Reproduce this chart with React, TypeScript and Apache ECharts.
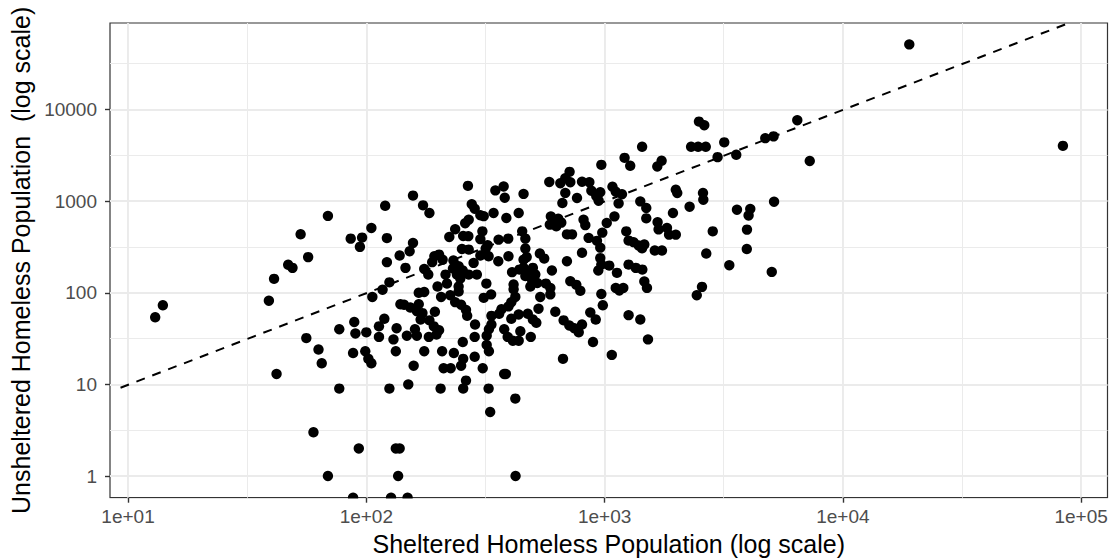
import React, { useEffect, useRef } from "react";
import * as echarts from "echarts";

// Sheltered (x) and unsheltered (y) homeless population per area.
const sheltered = [
  13, 14, 39, 41, 42, 47, 49, 53, 57, 56, 60, 63, 65, 69, 69, 77, 77,
  86, 96, 94, 105, 120, 122, 122, 138, 106, 117, 125, 139, 89, 90, 100, 113, 113, 119, 130, 134,
  88, 99, 102, 105, 133, 125, 93, 133, 138, 136, 88, 127, 149,
  146, 157, 173, 184, 157, 152, 175, 182, 193, 202, 209, 189, 232, 236, 223, 255, 268, 252,
  267, 277, 285, 301, 311, 269, 260, 244, 231, 254, 215, 240, 218, 244, 248, 206, 225, 236,
  244, 199, 250, 262, 265, 166, 175, 144, 153, 166, 163, 172, 169, 194, 184, 192, 202, 197,
  160, 148, 163, 183, 175, 158, 150, 205, 208, 233, 211, 226, 254, 255, 250, 285, 255, 262,
  286, 285, 308, 326, 331, 379, 385, 422, 423,
  335, 335, 327, 320, 320, 327, 334, 311, 319, 291, 269, 269, 282, 301, 326, 358, 395,
  307, 301, 323, 317, 359, 394, 342, 387, 436, 348, 377, 381, 457, 451, 465, 465, 471, 457,
  535, 558, 409, 439, 457, 476, 500, 512, 465, 496, 488, 522, 601, 567, 415, 592, 415, 422,
  406, 395, 436, 369, 361, 406, 379, 392, 412, 436, 443, 476, 500, 517, 490, 537, 528, 592,
  586, 652, 684, 713, 718, 684, 665, 766, 804, 863, 880, 923, 959, 944, 969,
  595, 639, 609, 589, 627, 658, 695, 730, 816, 830, 857, 929, 959, 978, 804, 695, 959, 969,
  941, 718, 761, 791, 969, 983, 621, 673, 711, 746, 779, 804, 871, 918, 894, 669,
  1072, 1046, 1127, 1261, 1352, 1440, 1114, 1153, 1198, 1468, 1506, 2563, 2437, 1261, 1412,
  1521, 1021, 1100, 1145, 1079, 1114, 1183, 1213, 1281, 1437, 1664, 1735, 1412, 1496, 1496,
  1233, 1261, 1323, 1389, 1436, 1468, 1624, 1741, 1669, 1685, 1827, 1865, 1990, 1936, 1990,
  2018, 2274, 2588, 2596, 2844, 2671, 3337, 3594, 4087, 4021, 3959, 3952, 5030, 5143,
  2307, 2469, 2658, 2489, 2620, 3178, 2980, 3569, 4725, 5118, 6437, 7261, 19000, 83850,
];

const unsheltered = [
  54, 73, 82, 142, 13, 202, 187, 435, 245, 32, 3, 24, 17, 690, 1, 40, 9,
  390, 400, 317, 510, 890, 395, 216, 255, 90, 108, 130, 75, 48, 36, 37, 33, 43, 52, 31, 41,
  22, 23, 19, 17, 23, 9, 2, 2, 2, 1, 0, 0, 0,
  187, 1150, 900, 743, 350, 284, 182, 158, 250, 261, 230, 216, 225, 494, 407, 417, 415, 301,
  1470, 926, 827, 703, 686, 628, 575, 195, 184, 175, 158, 158, 126, 117, 143, 90, 94, 79,
  103, 117, 74, 65, 56, 100, 102, 74, 69, 75, 63, 60, 51, 62, 50, 43, 39, 35,
  40, 34, 34, 33, 23, 16, 10, 9, 23, 22, 15, 15, 29, 19, 16, 20, 9, 11,
  45, 33, 15, 9, 5, 13, 13, 7, 1,
  56, 45, 40, 34, 27, 23, 96, 88, 126, 158, 158, 296, 212, 255, 250, 221, 250,
  468, 385, 331, 304, 380, 390, 743, 655, 743, 1310, 1447, 1090, 1200, 468, 390, 304, 245, 230,
  268, 236, 168, 179, 187, 172, 187, 158, 152, 138, 117, 128, 175, 126, 123, 113, 109, 90,
  79, 71, 58, 66, 59, 52, 40, 33, 30, 30, 38, 59, 51, 47, 33, 90, 67, 96,
  1620, 1570, 1780, 2090, 1610, 1230, 954, 1082, 1630, 1610, 1300, 1132, 1251, 1011, 2490,
  682, 644, 605, 554, 531, 583, 434, 434, 628, 547, 397, 369, 311, 453, 273, 221, 239, 203,
  175, 134, 122, 105, 97, 73, 62, 50, 44, 41, 37, 45, 61, 51, 29, 19,
  21, 198, 165, 203, 187, 179, 113, 106, 113, 133, 113, 116, 94, 57, 51,
  31, 578, 682, 945, 1437, 1267, 1190, 2970, 2431, 3920, 2389, 2757, 994, 842, 649,
  468, 371, 357, 329, 306, 336, 289, 289, 590, 492, 510, 431, 431, 743, 1332,
  1227, 870, 1227, 1037, 468, 268, 200, 807, 823, 698, 489, 300, 169, 986,
  3920, 3920, 3920, 7382, 6745, 4384, 3024, 3204, 4869, 5094, 7647, 2743, 51400, 4015,
];

// Dashed reference line (log-log fit), two end points.
const fitLineX = [9.3, 85700];
const fitLineY = [9.2, 84900];

// Axis breaks and tick labels.
const xBreaks = [10, 100, 1000, 10000, 100000];
const xTickLabels = ["1e+01", "1e+02", "1e+03", "1e+04", "1e+05"];
const xMinorBreaks = [31.62, 316.2, 3162, 31623];
const yBreaks = [1, 10, 100, 1000, 10000];
const yTickLabels = ["1", "10", "100", "1000", "10000"];
const yMinorBreaks = [3.162, 31.62, 316.2, 3162, 31623];

const X_MIN = 8.4;
const X_MAX = 129000;
const Y_MIN = 0.58;
const Y_MAX = 88000;

const FONT = "'Liberation Sans', Arial, Helvetica, sans-serif";

function labelFor(breaks: number[], labels: string[]) {
  return (v: number) => {
    const i = breaks.findIndex((b) => Math.abs(Math.log10(b) - Math.log10(v)) < 1e-6);
    return i >= 0 ? labels[i] : "";
  };
}

export default function App() {
  const ref = useRef<HTMLDivElement>(null);

  useEffect(() => {
    if (!ref.current) return;
    const chart = echarts.init(ref.current, undefined, { renderer: "svg" });

    // zeros cannot sit on a log scale: like ggplot, they are pinned to the panel's lower edge
    const points = sheltered.map((x, i) => [x, unsheltered[i] === 0 ? Y_MIN : unsheltered[i]]);
    const fit = fitLineX.map((x, i) => [x, fitLineY[i]]);

    const major = { color: "#EBEBEB", width: 1.9, type: "solid" as const };
    const minor = { color: "#EBEBEB", width: 1.0, type: "solid" as const };
    const gridLines = [
      ...xBreaks.map((v) => ({ xAxis: v, lineStyle: major })),
      ...xMinorBreaks.map((v) => ({ xAxis: v, lineStyle: minor })),
      ...yBreaks.map((v) => ({ yAxis: v, lineStyle: major })),
      ...yMinorBreaks.map((v) => ({ yAxis: v, lineStyle: minor })),
    ];

    const tickStyle = { color: "#333333", width: 1.4 };

    chart.setOption({
      animation: false,
      backgroundColor: "#ffffff",
      textStyle: { fontFamily: FONT },
      grid: {
        left: 110,
        top: 23,
        width: 997.5,
        height: 474.7,
        show: true,
        borderColor: "#333333",
        borderWidth: 1.2,
        backgroundColor: "#ffffff",
        outerBoundsMode: "none",
        containLabel: false,
      },
      // white band under the panel so points pinned to the lower edge look clipped, as in the reference
      graphic: [
        {
          type: "rect",
          z: 50,
          silent: true,
          shape: { x: 100, y: 498.4, width: 1011, height: 9 },
          style: { fill: "#ffffff" },
        },
      ],
      xAxis: {
        type: "log",
        logBase: 10,
        min: X_MIN,
        max: X_MAX,
        z: 60,
        name: "Sheltered Homeless Population (log scale)",
        nameLocation: "middle",
        nameGap: 33,
        nameTextStyle: { fontSize: 25, color: "#000000", fontFamily: FONT },
        axisLine: { show: false },
        splitLine: { show: false },
        minorSplitLine: { show: false },
        axisTick: { show: true, customValues: xBreaks, length: 5, lineStyle: tickStyle },
        axisLabel: {
          customValues: xBreaks,
          formatter: labelFor(xBreaks, xTickLabels),
          fontSize: 19,
          color: "#4D4D4D",
          margin: 9.5,
          fontFamily: FONT,
        },
      },
      yAxis: {
        type: "log",
        logBase: 10,
        min: Y_MIN,
        max: Y_MAX,
        name: "Unsheltered Homeless Population  (log scale)",
        nameLocation: "middle",
        nameRotate: 90,
        nameGap: 74,
        nameTextStyle: { fontSize: 25, color: "#000000", fontFamily: FONT },
        axisLine: { show: false },
        splitLine: { show: false },
        minorSplitLine: { show: false },
        axisTick: { show: true, customValues: yBreaks, length: 5, lineStyle: tickStyle },
        axisLabel: {
          customValues: yBreaks,
          formatter: labelFor(yBreaks, yTickLabels),
          fontSize: 19,
          color: "#4D4D4D",
          margin: 13,
          fontFamily: FONT,
        },
      },
      series: [
        {
          name: "grid",
          type: "line",
          data: [],
          silent: true,
          markLine: {
            silent: true,
            symbol: "none",
            label: { show: false },
            z: 1,
            animation: false,
            data: gridLines,
          },
        },
        {
          name: "areas",
          type: "scatter",
          data: points,
          symbol: "circle",
          symbolSize: 10.4,
          itemStyle: { color: "#000000", opacity: 1 },
          z: 3,
          silent: true,
        },
        {
          name: "fit",
          type: "line",
          data: fit,
          symbol: "none",
          silent: true,
          z: 4,
          lineStyle: { color: "#000000", width: 2, type: [9, 8] },
        },
      ],
    });

    return () => chart.dispose();
  }, []);

  return (
    <div
      ref={ref}
      style={{ position: "fixed", left: 0, top: 0, width: 1111, height: 559, background: "#ffffff" }}
    />
  );
}
